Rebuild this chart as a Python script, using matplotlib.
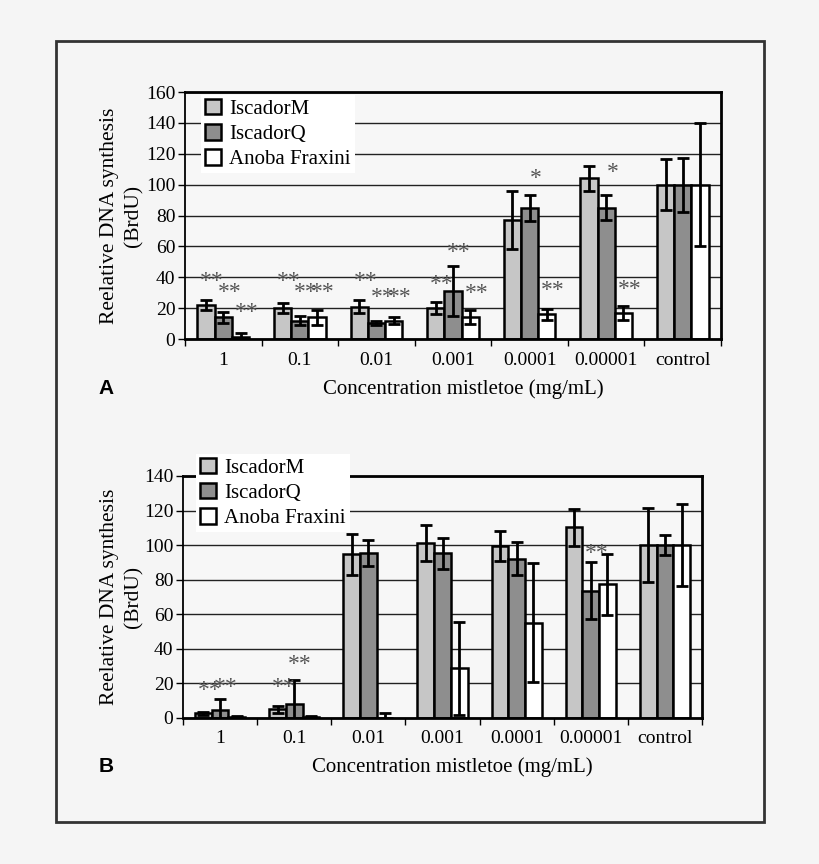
import numpy as np
import matplotlib
matplotlib.use('Agg')
import matplotlib.pyplot as plt
from matplotlib.patches import Rectangle

plt.rcParams['font.family'] = ['Liberation Serif', 'DejaVu Serif']

labels = ['1', '0.1', '0.01', '0.001', '0.0001', '0.00001', 'control']
series = ['IscadorM', 'IscadorQ', 'Anoba Fraxini']
colors = ['#c6c6c6', '#8e8e8e', '#ffffff']

# panel A
a_m = [22, 20, 21, 20, 77, 104, 100]
a_m_err = [3, 3.3, 4.4, 4, 19, 8, 16.5]
a_q = [14, 12, 10.5, 31, 85, 85, 100]
a_q_err = [3.6, 3, 1.5, 16, 8.3, 8, 17.5]
a_a = [1.5, 14, 12, 14, 16, 17, 100]
a_a_err = [2.5, 5, 2.4, 4.5, 3.5, 4.5, 40]
a_star_group = [0, 0, 0, 1, 1, 1, 2, 2, 2, 3, 3, 3, 4, 4, 5, 5]
a_star_bar = [0, 1, 2, 0, 1, 2, 0, 1, 2, 0, 1, 2, 1, 2, 1, 2]
a_star_text = ['**'] * 12 + ['*', '**', '*', '**']
a_star_y = [37.3, 29.9, 16.9, 37.3, 29.9, 29.9, 37.3, 26.7, 26.7,
            35.1, 56.1, 29.3, 104.1, 31.2, 108, 31.9]

# panel B
b_m = [2.7, 5.0, 94.7, 101.1, 99.5, 110.3, 100]
b_m_err = [1, 2, 12, 10.3, 8.4, 10.8, 21.4]
b_q = [4.6, 7.9, 95.7, 95.3, 92.2, 73.5, 100]
b_q_err = [6.5, 14, 7.5, 9, 9.6, 16.5, 5.7]
b_a = [0.8, 0.8, 0, 28.7, 55.2, 77.4, 100]
b_a_err = [0.3, 0.3, 3, 27, 34.5, 17.7, 23.7]
b_star_group = [0, 0, 1, 1, 5]
b_star_bar = [0, 1, 0, 1, 1]
b_star_text = ['**'] * 5
b_star_y = [15.8, 17.4, 17.8, 30.7, 95.3]

fig = plt.figure(figsize=(8.2, 8.64), dpi=100)
fig.patch.set_facecolor('#f5f5f5')
fig.add_artist(Rectangle((0.068, 0.0486), 0.8638, 0.9043, transform=fig.transFigure,
                         fill=False, edgecolor='#333333', linewidth=2))

w = 0.225


def panel(ax, vals, errs, ymax, stars, leg_anchor):
    x = np.arange(len(labels))
    for i in range(3):
        ax.bar(x + (i - 1) * w, vals[i], w, color=colors[i], edgecolor='black',
               linewidth=1.8, label=series[i], zorder=2)
        ax.errorbar(x + (i - 1) * w, vals[i], yerr=errs[i], fmt='none', ecolor='black',
                    elinewidth=2, capsize=4.5, capthick=2, zorder=3)
    g, b, t, y = stars
    for gi, bi, ti, yi in zip(g, b, t, y):
        ax.text(gi + (bi - 1) * w + 0.08, yi, ti, ha='center', va='center',
                fontsize=17, color='#555555', zorder=4)
    ax.set_facecolor('#f7f7f7')
    ax.set_xlim(-0.5, len(labels) - 0.5)
    ax.set_ylim(0, ymax)
    ax.set_yticks(np.arange(0, ymax + 1, 20))
    ax.grid(axis='y', color='#222222', linewidth=1)
    ax.set_axisbelow(True)
    ax.set_xticks(x)
    ax.set_xticklabels(labels)
    ax.set_xticks(np.arange(-0.5, len(labels)), minor=True)
    ax.tick_params(axis='x', which='major', length=0, pad=9, labelsize=14)
    ax.tick_params(axis='x', which='minor', length=5, width=1, direction='out')
    ax.tick_params(axis='y', length=5, width=1, pad=2, labelsize=14)
    for s in ['top', 'right', 'bottom']:
        ax.spines[s].set_linewidth(2)
    ax.spines['left'].set_linewidth(1.3)
    ax.set_xlabel('Concentration mistletoe (mg/mL)', fontsize=15)
    ax.xaxis.set_label_coords(0.519, -0.202)
    ax.xaxis.label.set_va('center')
    ax.set_ylabel('Reelative DNA synthesis\n(BrdU)', fontsize=15.5, linespacing=1.4)
    ax.yaxis.label.set_va('center')
    ax.yaxis.label.set_ha('center')
    ax.yaxis.set_label_coords(-0.118, 0.5)
    leg = ax.legend(loc='upper left', bbox_to_anchor=leg_anchor, fontsize=15,
                    frameon=True, fancybox=False, framealpha=1, facecolor='white',
                    edgecolor='none', handlelength=0.75, handleheight=0.75,
                    handletextpad=0.4, labelspacing=0.25, borderpad=0.2,
                    borderaxespad=0)
    leg.set_zorder(5)


axA = fig.add_axes([0.2256, 0.6076, 0.6537, 0.2859])
panel(axA, [a_m, a_q, a_a], [a_m_err, a_q_err, a_a_err], 160,
      (a_star_group, a_star_bar, a_star_text, a_star_y), (0.03, 0.988))

axB = fig.add_axes([0.2232, 0.1690, 0.6329, 0.2801])
panel(axB, [b_m, b_q, b_a], [b_m_err, b_q_err, b_a_err], 140,
      (b_star_group, b_star_bar, b_star_text, b_star_y), (0.025, 1.091))

fig.text(106 / 820, 1 - 389 / 864, 'A', fontsize=15, fontweight='bold',
         family='Liberation Sans', ha='center', va='center')
fig.text(106 / 820, 1 - 767 / 864, 'B', fontsize=15, fontweight='bold',
         family='Liberation Sans', ha='center', va='center')

fig.savefig('out.png', dpi=100, facecolor=fig.get_facecolor())
